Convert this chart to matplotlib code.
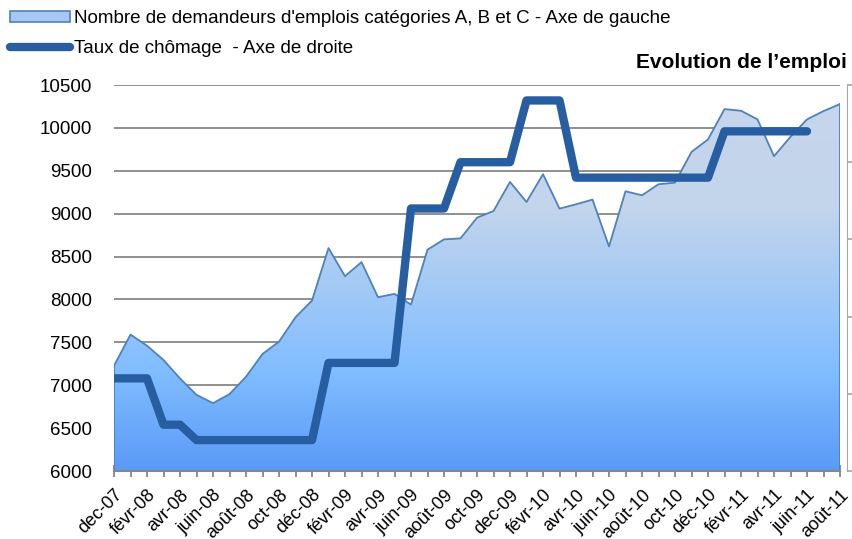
#! /usr/bin/env python3
import matplotlib
matplotlib.use('Agg')
import matplotlib.pyplot as plt
import numpy as np
from matplotlib.colors import LinearSegmentedColormap
from matplotlib.patches import Patch
from matplotlib.lines import Line2D

plt.rcParams['font.family'] = ['Liberation Sans', 'DejaVu Sans']

# monthly, dec-07 .. août-11
months = ['dec-07', 'janv-08', 'févr-08', 'mars-08', 'avr-08', 'mai-08', 'juin-08',
          'juil-08', 'août-08', 'sept-08', 'oct-08', 'nov-08', 'déc-08',
          'janv-09', 'févr-09', 'mars-09', 'avr-09', 'mai-09', 'juin-09',
          'juil-09', 'août-09', 'sept-09', 'oct-09', 'nov-09', 'dec-09',
          'janv-10', 'févr-10', 'mars-10', 'avr-10', 'mai-10', 'juin-10',
          'juil-10', 'août-10', 'sept-10', 'oct-10', 'nov-10', 'déc-10',
          'janv-11', 'févr-11', 'mars-11', 'avr-11', 'mai-11', 'juin-11',
          'juil-11', 'août-11']

demandeurs = [7227, 7590, 7461, 7294, 7079, 6888, 6791, 6896, 7099, 7364,
              7508, 7792, 7987, 8599, 8271, 8435, 8026, 8065, 7940, 8580,
              8700, 8712, 8953, 9031, 9370, 9136, 9460, 9059, 9109, 9164,
              8618, 9261, 9214, 9343, 9362, 9720, 9865, 10219, 10200, 10099,
              9670, 9896, 10099, 10196, 10278]

# taux de chomage (axe de droite), dispo jusqu'a juin-11
taux = [7.2, 7.2, 7.2, 6.6, 6.6, 6.4, 6.4, 6.4, 6.4, 6.4, 6.4, 6.4, 6.4,
        7.4, 7.4, 7.4, 7.4, 7.4, 9.4, 9.4, 9.4, 10.0, 10.0, 10.0, 10.0,
        10.8, 10.8, 10.8, 9.8, 9.8, 9.8, 9.8, 9.8, 9.8, 9.8, 9.8, 9.8,
        10.4, 10.4, 10.4, 10.4, 10.4, 10.4]

left_ticks = [6000, 6500, 7000, 7500, 8000, 8500, 9000, 9500, 10000, 10500]

AREA_EDGE = '#4f81bd'
LINE_COL = '#275ea1'
GRID_COL = '#8f8f8f'
FS = 13.5


def main():
    fig = plt.figure(figsize=(8.52, 5.39), dpi=100)
    ax = fig.add_axes([114/852, 1-471/539, (840-114)/852, (471-85)/539])
    x = np.arange(len(months))

    ax.set_ylim(6000, 10500)
    ax.set_yticks(left_ticks)
    ax.yaxis.grid(True, color=GRID_COL, lw=1.4)
    ax.set_axisbelow(True)
    for s in ['left', 'top', 'right']:
        ax.spines[s].set_visible(False)
    ax.spines['bottom'].set_color('#868686')
    ax.spines['bottom'].set_linewidth(1.5)
    ax.tick_params(axis='y', length=0, pad=16, labelsize=FS)

    # gradient area
    poly = ax.fill_between(x, 6000, demandeurs, facecolor='none', edgecolor='none')
    cmap = LinearSegmentedColormap.from_list('grad', [
        (0.0, '#5a9af7'), (0.28, '#82beff'), (0.72, '#c3d5ec'), (1.0, '#c6d6eb')])
    grad = np.linspace(0, 1, 256).reshape(-1, 1)
    img = ax.imshow(grad, cmap=cmap, origin='lower', aspect='auto',
                    extent=[0, len(months)-1, 6000, max(demandeurs)], zorder=1)
    img.set_clip_path(poly.get_paths()[0], transform=ax.transData)
    ax.plot(x, demandeurs, color=AREA_EDGE, lw=1.3, zorder=2)
    ax.plot([x[-1], x[-1]], [6000, demandeurs[-1]], color=AREA_EDGE, lw=1.3, zorder=2)
    ax.plot([0, 0], [6000, demandeurs[0]], color=AREA_EDGE, lw=1.3, zorder=2)
    ax.set_xlim(0, len(months)-1)
    ax.set_ylim(6000, 10500)

    # x ticks
    ax.set_xticks(x[::2])
    ax.set_xticklabels(months[::2], rotation=45, ha='right', va='top',
                       rotation_mode='anchor', fontsize=13)
    ax.set_xticks(x[1::2], minor=True)
    ax.tick_params(axis='x', which='both', direction='inout', length=8,
                   width=1.3, color='#868686', pad=7)

    # right axis
    ax2 = ax.twinx()
    ax2.set_ylim(6, 11)
    ax2.set_yticks([6, 7, 8, 9, 10, 11])
    ax2.set_yticklabels([])
    for s in ['left', 'top', 'bottom']:
        ax2.spines[s].set_visible(False)
    ax2.spines['right'].set_position(('outward', 5))
    ax2.spines['right'].set_color('#a6a6a6')
    ax2.tick_params(axis='y', length=5, color='#a6a6a6', width=1.2)
    ax2.plot(x[:len(taux)], taux, color=LINE_COL, lw=6,
             solid_capstyle='round', solid_joinstyle='round', zorder=3)

    ax.set_zorder(ax2.get_zorder() - 1)
    ax2.patch.set_visible(False)

    fig.text(847/852, 1-62/539, 'Evolution de l\u2019emploi', ha='right',
             va='center', fontsize=15, fontweight='bold')

    handles = [Patch(facecolor='#a8c8f2', edgecolor=AREA_EDGE, lw=1.2),
               Line2D([], [], color=LINE_COL, lw=6, solid_capstyle='round')]
    labels = ["Nombre de demandeurs d'emplois catégories A, B et C - Axe de gauche",
              'Taux de chômage  - Axe de droite']
    fig.legend(handles, labels, loc='upper left', bbox_to_anchor=(0.0, 1.0),
               frameon=False, fontsize=FS, handlelength=3.2, handleheight=0.5,
               handletextpad=0.2, labelspacing=0.7, borderaxespad=0.3,
               borderpad=0.25)

    fig.savefig('out.png', dpi=100)


if __name__ == '__main__':
    main()
